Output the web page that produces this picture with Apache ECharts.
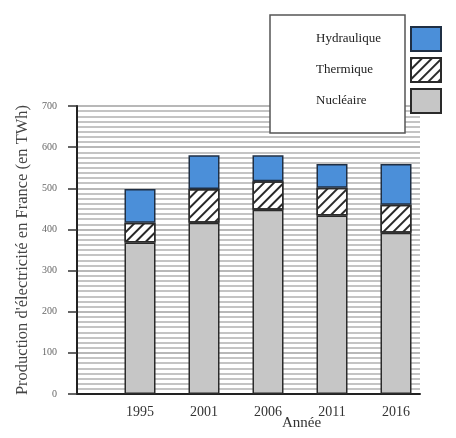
<!DOCTYPE html>
<html>
<head>
<meta charset="utf-8">
<script src="https://cdn.jsdelivr.net/npm/echarts@6/dist/echarts.min.js"></script>
<style>
  html, body { margin: 0; padding: 0; background: #ffffff; }
  #chart { width: 456px; height: 438px; }
</style>
</head>
<body>
<div id="chart"></div>
<script>
// Production d'électricité en France, par filière (TWh)
const years = ['1995', '2001', '2006', '2011', '2016'];
const nucleaire = [368, 416, 448, 434, 392];
const thermique = [48, 82, 69, 67, 68];
const hydraulique = [82, 82, 63, 58, 99];
const yTicks = [0, 100, 200, 300, 400, 500, 600, 700];

const serif = "'Liberation Serif', 'DejaVu Serif', serif";
const yMin = yTicks[0];
const yMax = yTicks[yTicks.length - 1];

// Grid 0: the frame (y scale, ruled background, x axis line).
// Grid 1: the stacked bars, offset to the right inside the frame.
const barBase = {
  type: 'bar',
  stack: 'total',
  barWidth: 31,
  xAxisIndex: 1,
  yAxisIndex: 1
};

const chart = echarts.init(document.getElementById('chart'), null, { renderer: 'canvas' });

chart.setOption({
  backgroundColor: '#ffffff',
  animation: false,
  grid: [
    { left: 77, right: 36, top: 106, bottom: 44, containLabel: false },
    { left: 108, right: 28, top: 106, bottom: 44, containLabel: false }
  ],
  xAxis: [
    {
      gridIndex: 0,
      type: 'value',
      min: 0,
      max: 1,
      name: 'Année',
      nameLocation: 'middle',
      nameGap: 22,
      nameTextStyle: { fontFamily: serif, fontSize: 15, color: '#333', padding: [0, 0, 0, 106] },
      axisLine: { show: true, lineStyle: { color: '#222', width: 2 } },
      axisTick: { show: false },
      axisLabel: { show: false },
      splitLine: { show: false }
    },
    {
      gridIndex: 1,
      type: 'category',
      data: years,
      axisLine: { show: false },
      axisTick: { show: false },
      splitLine: { show: false },
      axisLabel: { margin: 11, fontFamily: serif, fontSize: 14, color: '#333' }
    }
  ],
  yAxis: [
    {
      gridIndex: 0,
      type: 'value',
      min: yMin,
      max: yMax,
      interval: 100,
      name: "Production d'électricité en France (en TWh)",
      nameLocation: 'middle',
      nameGap: 37,
      nameTextStyle: { fontFamily: serif, fontSize: 16.5, color: '#444' },
      axisLine: { show: true, lineStyle: { color: '#222', width: 2 } },
      axisTick: { show: true, length: 9, lineStyle: { color: '#333', width: 1.5 } },
      axisLabel: { margin: 20, fontFamily: serif, fontSize: 10, color: '#666' },
      splitLine: { show: true, lineStyle: { color: '#b8b8b8', width: 2 } },
      minorTick: { show: false, splitNumber: 8 },
      minorSplitLine: { show: true, lineStyle: { color: '#c4c4c4', width: 2 } }
    },
    {
      gridIndex: 1,
      type: 'value',
      min: yMin,
      max: yMax,
      interval: 100,
      show: false,
      splitLine: { show: false }
    }
  ],
  legend: {
    orient: 'vertical',
    align: 'right',
    right: 14,
    top: 26,
    padding: 0,
    itemWidth: 30,
    itemHeight: 24,
    itemGap: 5,
    icon: 'rect',
    z: 6,
    data: ['Hydraulique', 'Thermique', 'Nucléaire'],
    formatter: '{t|{name}}',
    textStyle: {
      fontFamily: serif,
      fontSize: 13,
      color: '#222',
      rich: { t: { width: 90, align: 'left', fontFamily: serif, fontSize: 13, color: '#222' } }
    }
  },
  graphic: [{
    type: 'rect',
    z: 5,
    shape: { x: 270, y: 15, width: 135, height: 118 },
    style: { fill: '#ffffff', stroke: '#555', lineWidth: 1.5 }
  }],
  series: [
    Object.assign({}, barBase, {
      name: 'Nucléaire',
      data: nucleaire,
      itemStyle: { color: '#c6c6c6', borderColor: '#2a2a2a', borderWidth: 1.5 }
    }),
    Object.assign({}, barBase, {
      name: 'Thermique',
      data: thermique,
      itemStyle: {
        color: '#ffffff',
        borderColor: '#2a2a2a',
        borderWidth: 1.5,
        decal: {
          symbol: 'rect',
          color: '#2a2a2a',
          dashArrayX: [1, 0],
          dashArrayY: [2, 5],
          rotation: -Math.PI / 4
        }
      }
    }),
    Object.assign({}, barBase, {
      name: 'Hydraulique',
      data: hydraulique,
      itemStyle: { color: '#4b8fd9', borderColor: '#1f2f44', borderWidth: 1.5 }
    })
  ]
});
</script>
</body>
</html>
